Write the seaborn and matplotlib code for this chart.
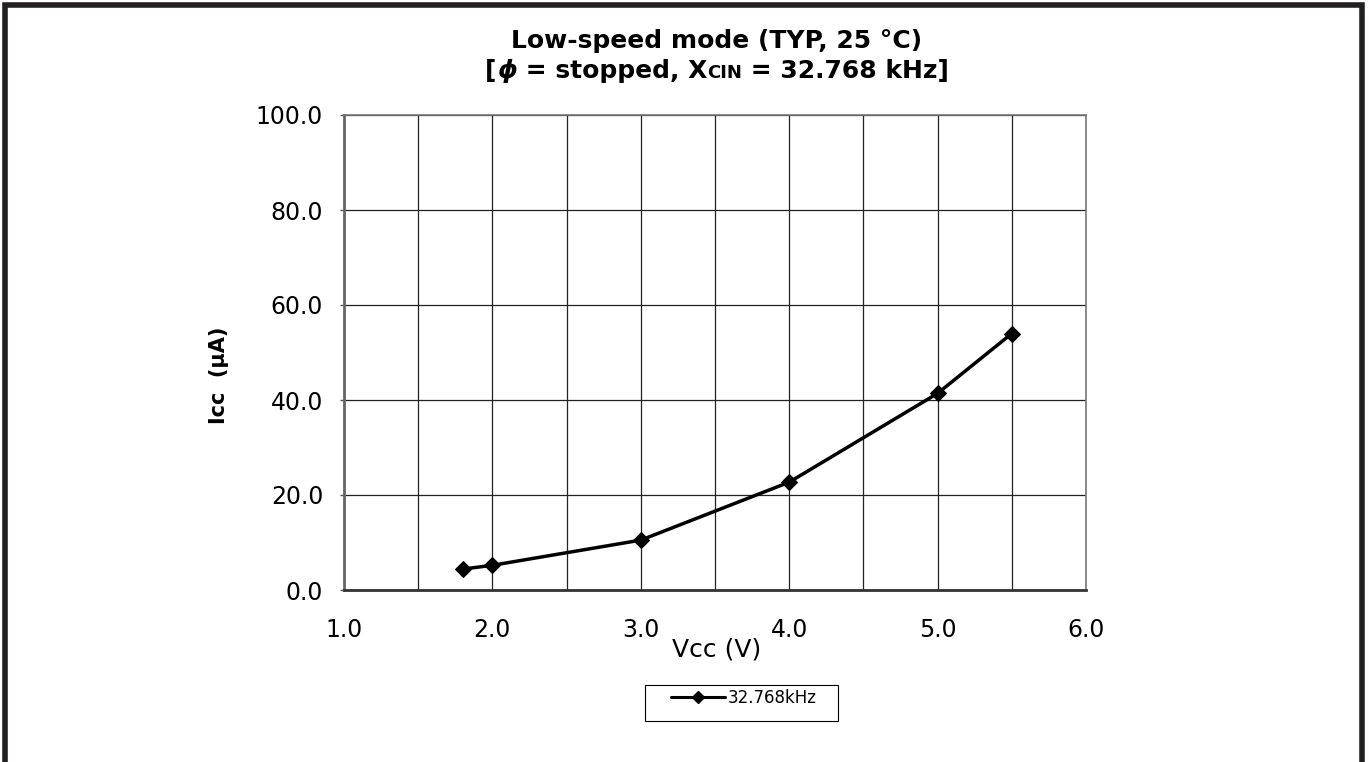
import matplotlib
matplotlib.use("Agg")
import matplotlib.pyplot as plt
import seaborn as sns
import pandas as pd
from matplotlib.patches import Rectangle

sns.set_style("white")
plt.rcParams['font.family'] = ['DejaVu Sans']
plt.rcParams.update({'text.color': 'black', 'xtick.color': 'black',
                     'ytick.color': 'black', 'axes.labelcolor': 'black'})

W, H = 1369, 762

# data
vcc = [1.8, 2.0, 3.0, 4.0, 5.0, 5.5]
icc = [4.4, 5.2, 10.5, 22.7, 41.4, 54.0]
series_name = "32.768kHz"
x_ticks = [1.0, 2.0, 3.0, 4.0, 5.0, 6.0]
y_ticks = [0, 20, 40, 60, 80, 100]

df = pd.DataFrame({"Vcc": vcc, "Icc": icc, "series": series_name})

fig = plt.figure(figsize=(W / 100, H / 100), dpi=100)
ax = fig.add_axes([344 / W, 1 - 590 / H, (1086 - 344) / W, (590 - 115) / H])

sns.lineplot(data=df, x="Vcc", y="Icc", hue="series", palette=["black"],
             marker="D", markersize=8, markeredgecolor="black", linewidth=2.5,
             ax=ax, legend=False)

ax.set_xlim(1.0, 6.0)
ax.set_ylim(0, 100)
ax.set_xticks(x_ticks)
ax.set_xticklabels([f"{v:.1f}" for v in x_ticks])
ax.set_xticks([1.5, 2.5, 3.5, 4.5, 5.5], minor=True)
ax.set_yticks(y_ticks)
ax.set_yticklabels([f"{v:.1f}" for v in y_ticks])
ax.grid(True, which="both", color="#222222", linewidth=0.9)
ax.tick_params(axis="x", which="major", length=0, pad=20.5, labelsize=17)
ax.tick_params(axis="x", which="minor", length=0)
ax.tick_params(axis="y", length=3, width=1, color="#555555", pad=12, labelsize=17, left=True)
for side in ["top", "right"]:
    ax.spines[side].set_color("#777777")
    ax.spines[side].set_linewidth(1.2)
ax.spines["left"].set_color("#666666")
ax.spines["left"].set_linewidth(2)
ax.spines["bottom"].set_color("#333333")
ax.spines["bottom"].set_linewidth(2)
ax.set_xlabel("")
ax.set_ylabel("")

fig.text(717 / W, 1 - 656 / H, "Vcc (V)", ha="center", va="baseline", fontsize=18)
fig.text(219 / W, 1 - 375 / H, "Icc  (µA)", ha="center", va="center",
         rotation=90, fontsize=15, fontweight="bold")

# title, first line
fig.text(717 / W, 1 - 48 / H, "Low-speed mode (TYP, 25 °C)",
         ha="center", va="baseline", fontsize=18, fontweight="bold")

# title, second line: X with small "CIN" sitting on the baseline
renderer = fig.canvas.get_renderer()
base2 = 1 - 78 / H
pieces = [
    fig.text(0, base2, "[", fontsize=18, fontweight="bold", va="baseline"),
    fig.text(0, base2, "ϕ", fontsize=18, fontweight="bold", style="italic", va="baseline"),
    fig.text(0, base2, " = stopped, X", fontsize=18, fontweight="bold", va="baseline"),
    fig.text(0, base2, "CIN", fontsize=13, fontweight="bold", va="baseline"),
    fig.text(0, base2, " = 32.768 kHz]", fontsize=18, fontweight="bold", va="baseline"),
]
widths = [p.get_window_extent(renderer).width for p in pieces]
x0 = 717 - sum(widths) / 2
for p, w in zip(pieces, widths):
    p.set_x(x0 / W)
    x0 += w

handle = plt.Line2D([], [], color="black", marker="D", markersize=6, linewidth=2.2)
leg = fig.legend([handle], [series_name], loc="center",
                 bbox_to_anchor=(744 / W, 1 - 698 / H), fontsize=12,
                 frameon=False, handlelength=3.2, handletextpad=0.2,
                 borderpad=0, borderaxespad=0)
fig.add_artist(Rectangle((645 / W, 1 - 721 / H), (838 - 645) / W, 36 / H,
                         transform=fig.transFigure, fill=False,
                         edgecolor="black", linewidth=0.8))

# thick page frame on top, left and right
fig.add_artist(Rectangle((5.5 / W, -0.1), (1361.5 - 5.5) / W, 1.1 - 5.5 / H,
                         transform=fig.transFigure, fill=False,
                         edgecolor="#231f20", linewidth=4))

fig.savefig("out.png", dpi=100)
